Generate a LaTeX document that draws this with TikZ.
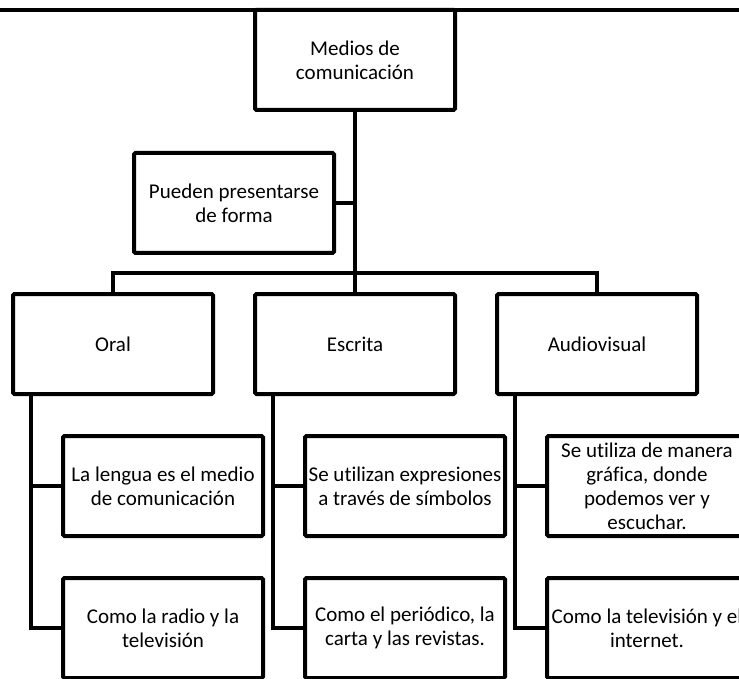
\documentclass[tikz,border=0pt]{standalone}
\usepackage{fontspec}
\setmainfont{Carlito}[Ligatures=NoCommon]

\begin{document}
\begin{tikzpicture}[x=1pt,y=-1pt,line width=4pt,node distance=242pt,
    box/.style={draw,rectangle,rounded corners=1.5pt,minimum width=200pt,
      minimum height=100pt,inner sep=0pt,align=center,
      font=\fontsize{21}{24}\selectfont}]
    \clip (0,0) rectangle (739,679);
    \draw (0,10) -- (739,10);

    \node[box] (medios)               at (355,60)  {Medios de\\comunicación};
    \node[box] (forma)                at (234,203) {Pueden presentarse\\de forma};
    \node[box] (escrita)              at (355,344) {Escrita};
    \node[box] (oral)    [left of=escrita]         {Oral};
    \node[box] (audio)   [right of=escrita]        {Audiovisual};

    \node[box] (oral1)                at (163,486) {La lengua es el medio\\de comunicación};
    \node[box] (escrita1) [right of=oral1]         {Se utilizan expresiones\\a través de símbolos};
    \node[box] (audio1)   [right of=escrita1]      {Se utiliza de manera\\gráfica, donde\\podemos ver y\\escuchar.};
    \node[box] (oral2)    [below of=oral1,node distance=142pt] {Como la radio y la\\televisión};
    \node[box] (escrita2) [right of=oral2]         {Como el periódico, la\\carta y las revistas.};
    \node[box] (audio2)   [right of=escrita2]      {Como la televisión y el\\internet.};

    \draw (medios) -- (escrita);
    \draw (forma.east) -- (forma.east -| medios.south);
    \draw (oral.north) -- ++(0,-19) -| (audio.north);
    \foreach \c in {oral,escrita,audio} {
      \draw ([xshift=20pt]\c.south west) |- (\c1.west);
      \draw ([xshift=20pt]\c.south west) |- (\c2.west);
    }
\end{tikzpicture}
\end{document}
